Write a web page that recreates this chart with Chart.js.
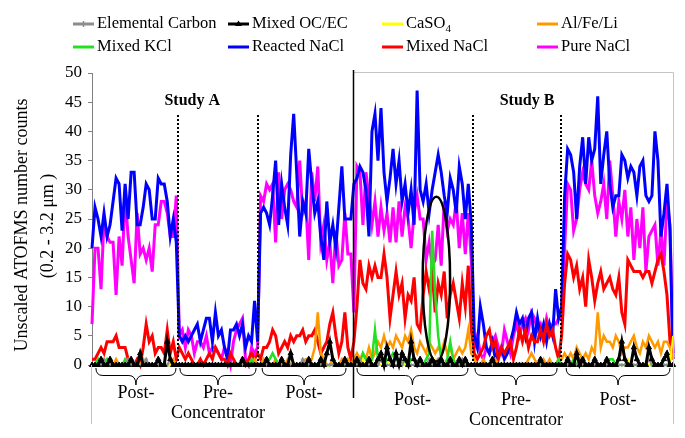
<!DOCTYPE html>
<html>
<head>
<meta charset="utf-8">
<script src="https://cdn.jsdelivr.net/npm/chart.js@4.4.0/dist/chart.umd.min.js"></script>
<style>
  body { margin: 0; background: #fff; }
  #wrap { width: 685px; height: 438px; }
</style>
</head>
<body>
<div id="wrap"><canvas id="chart"></canvas></div>
<script>
// values, one row per section:
// Study A post / pre / post, then Study B post / pre / post
var reactedNaCl = [
  20,27,25,22,26,22,24,28,32,31,23,31,25,33,33,24,24,27,31,30,25,25,32,31,31,28,22,25,21,
  5,4,5,4,5,6,7,4,6,8,8,4,9,5,6,3,1,6,6,7,5,7,3,5,4,11,4,
  26,27,26,24,29,35,24,31,27,24,36,43,33,22,28,26,37,31,26,28,22,18,28,21,24,20,27,34,25,25,25,
  31,32,34,33,30,22,40,43,35,44,33,28,32,37,31,35,28,31,26,30,24,47,30,28,31,26,30,33,36,33,29,26,32,30,26,34,31,25,31,24,
  5,3,10,7,3,2,4,1,2,3,1,2,4,6,9,7,8,5,8,9,4,8,5,7,4,7,5,13,8,
  10,29,37,36,33,25,34,39,31,39,35,37,46,31,36,40,31,27,29,29,36,35,32,34,33,29,34,35,29,28,29,40,35,22,26,31,23,1
];
var pureNaCl = [
  7,20,20,13,25,22,21,21,12,22,17,29,22,18,14,26,19,20,18,20,16,24,24,28,28,26,22,22,29,
  5,6,3,6,5,2,4,4,3,5,2,3,3,2,1,3,2,0,4,6,7,8,1,0,3,2,3,
  29,28,31,30,31,21,33,25,30,31,30,28,27,35,26,28,18,33,28,34,21,24,18,21,14,23,17,18,26,19,19,
  9,34,33,24,33,29,24,28,22,27,23,26,21,27,21,28,22,27,25,20,26,29,25,25,18,21,17,18,24,17,28,23,25,24,28,20,26,19,26,18,
  3,5,2,1,3,2,4,5,3,2,6,4,2,5,7,5,7,8,6,9,8,6,7,5,8,6,7,7,8,
  8,20,31,30,23,25,30,33,31,30,35,29,26,28,31,25,35,29,22,28,25,30,22,27,18,25,20,27,16,22,23,24,17,23,17,28,24,2
];
var mixedNaCl = [
  1,1,2,3,2,4,4,4,5,3,3,3,1,0,0,1,0,3,7,4,5,2,3,3,2,6,2,4,1,
  3,2,1,2,1,0,0,1,0,1,2,1,3,2,1,1,0,2,1,0,0,1,0,1,2,1,2,
  1,3,3,4,6,5,2,3,4,3,5,4,5,5,6,4,5,5,6,4,2,3,4,7,9,5,2,4,9,3,1,
  4,10,18,14,13,17,15,17,15,15,19,15,8,12,16,12,14,8,12,11,15,7,6,12,16,13,16,9,14,12,16,8,12,14,11,8,14,10,17,6,
  2,1,2,3,5,6,3,4,1,3,2,3,4,1,3,6,4,6,3,5,4,4,6,4,7,5,6,3,1,
  5,14,19,18,15,17,13,15,10,18,15,11,14,16,13,14,15,13,12,15,9,7,18,17,16,16,16,15,16,16,14,16,18,19,16,12,4,1
];
var alFeLi = [
  0,0,1,0,0,0,0,0,1,0,0,0,0,0,0,0,0,1,0,0,0,0,1,0,0,0,0,1,0,
  0,0,0,0,0,0,0,0,0,0,0,0,0,0,0,0,0,0,0,0,0,0,0,0,0,1,0,
  0,1,0,0,0,1,0,0,0,1,0,0,0,0,0,1,1,1,3,9,2,1,0,0,1,0,0,1,0,1,0,
  1,2,1,2,1,3,1,2,4,3,5,3,4,3,5,4,3,5,4,6,3,2,4,3,2,4,3,2,3,2,4,2,3,1,2,3,2,3,6,2,
  1,0,0,1,0,0,0,1,0,0,0,0,0,0,0,0,0,0,1,2,1,0,0,1,0,1,0,0,1,
  1,2,1,2,1,3,2,1,2,1,3,2,9,3,5,4,4,3,5,4,2,3,3,4,5,3,2,4,3,5,4,3,4,2,4,4,3,1
];
var mixedKCl = [
  0,0,1,0,0,1,0,0,0,0,0,1,0,0,0,0,0,0,0,0,0,0,0,0,0,0,0,0,0,
  0,0,0,0,0,0,0,0,0,0,0,0,0,0,0,0,0,0,0,0,0,0,0,0,1,0,0,
  0,0,1,1,2,1,0,0,0,0,0,0,0,0,0,0,0,0,0,0,0,0,0,0,0,0,0,0,0,0,0,
  0,1,0,2,1,0,1,6,1,1,0,1,1,2,1,1,0,1,0,1,1,0,1,0,1,2,23,12,5,1,0,1,4,1,0,1,0,1,0,0,
  0,0,0,0,0,0,0,0,0,0,0,0,0,0,0,0,0,0,0,0,0,0,0,0,0,0,0,0,1,
  0,0,1,0,1,0,0,0,0,0,0,0,0,0,0,0,1,1,0,0,0,0,0,0,0,0,0,0,0,0,0,0,0,0,0,0,0,0
];
var mixedOCEC = [
  0,0,0,1,0,0,1,0,0,0,0,0,0,1,0,0,2,0,0,0,0,0,1,0,0,4,1,0,0,
  0,0,0,0,0,0,0,0,0,0,0,0,0,0,0,0,0,0,0,0,0,1,0,0,0,0,0,
  0,0,1,0,0,0,0,1,0,0,2,0,0,0,0,0,1,0,0,0,1,0,2,4,1,0,0,0,1,0,0,
  0,1,0,0,0,1,0,0,1,2,0,3,1,0,2,0,2,1,0,4,1,0,1,0,0,0,1,0,0,1,0,0,1,0,0,1,0,1,0,0,
  0,0,0,0,0,0,1,0,0,0,0,0,0,0,0,0,0,0,0,0,0,0,1,0,0,0,0,0,0,
  0,0,1,0,0,2,0,1,0,0,0,1,0,0,0,1,0,0,0,1,4,1,0,0,3,1,0,0,0,3,1,0,0,0,1,2,0,0
];
var caSO4 = [
  0,0,0,0,0,0,0,0,0,0,0,0,0,0,0,0,0,0,0,0,0,0,0,0,0,0,0,0,0,
  0,0,0,0,0,0,0,0,0,0,0,0,0,0,0,0,0,0,0,0,0,0,0,0,0,0,0,
  0,0,0,0,0,0,0,0,0,0,0,0,0,0,0,0,0,0,0,0,0,0,0,0,0,0,0,0,0,0,0,
  0,0,0,1,0,0,0,0,0,0,0,0,1,0,0,0,0,0,0,0,0,0,0,0,0,0,0,1,0,0,0,0,0,0,0,0,0,1,0,0,
  0,0,0,0,0,0,0,0,0,0,0,0,0,0,0,0,0,0,0,0,0,0,0,0,0,0,0,0,0,
  0,0,0,0,0,0,0,0,0,0,0,0,0,0,0,0,0,0,0,0,0,0,1,0,0,0,0,0,0,0,0,0,0,0,0,0,0,5
];
var elementalCarbon = [
  0,0,0,0,1,0,0,0,0,0,0,0,1,0,0,0,0,0,1,0,0,0,0,0,0,0,1,0,0,
  0,0,0,0,0,0,0,0,0,0,0,0,0,0,0,0,0,0,0,0,0,0,0,0,0,0,0,
  0,0,0,0,0,0,0,0,0,0,0,0,0,0,1,0,0,0,0,0,0,0,0,0,0,0,0,0,0,0,0,
  0,0,1,0,0,0,0,0,0,1,0,0,0,0,0,0,0,1,0,0,0,0,0,0,0,1,0,0,1,0,0,0,0,0,0,0,1,0,0,0,
  0,0,0,0,0,0,0,0,0,0,0,0,0,0,0,0,0,0,0,0,0,0,0,0,0,0,0,0,0,
  0,0,0,0,0,0,1,0,0,0,0,0,0,0,0,0,0,0,0,0,0,0,0,0,0,0,0,0,0,1,0,0,0,0,0,0,0,0
];

var seriesNames = ['Elemental Carbon', 'Mixed OC/EC', 'CaSO4', 'Al/Fe/Li', 'Mixed KCl', 'Reacted NaCl', 'Mixed NaCl', 'Pure NaCl'];
var yTickValues = [0, 5, 10, 15, 20, 25, 30, 35, 40, 45, 50];
var sectionLabels = [['Post-'], ['Pre-', 'Concentrator'], ['Post-'], ['Post-'], ['Pre-', 'Concentrator'], ['Post-']];
var studyLabels = ['Study A', 'Study B'];

// sample number along the x axis
var samples = reactedNaCl.map(function(v, i) { return i; });

// annotation placement, in sample / count units
var dottedAt = [28.6, 55.3, 126.6, 155.9];
var studySplitAt = 86.7;
var braces = [[1.3, 27.9], [29.2, 54.5], [56.5, 84.4], [88.0, 124.9], [127.2, 154.5], [157.5, 192.0]];
var studyLabelAt = [33.3, 144.5];
var ellipseAt = { x: 114.4, y: 14.7, rx: 4.55, ry: 14.1 };

var serif = '"Liberation Serif", "Times New Roman", serif';
var colors = ['#8c8c8c', '#000000', '#ffff00', '#ff9900', '#22e022', '#0000ff', '#ff0000', '#ff00ff'];

function drawBrace(ctx, x1, x2, top, tip) {
    var mid = (top + tip) / 2 - 1;
    var c = (x1 + x2) / 2;
    var r = 7;
    ctx.beginPath();
    ctx.moveTo(x1, top);
    ctx.quadraticCurveTo(x1, mid, x1 + r, mid);
    ctx.lineTo(c - r, mid);
    ctx.quadraticCurveTo(c, mid, c, tip);
    ctx.quadraticCurveTo(c, mid, c + r, mid);
    ctx.lineTo(x2 - r, mid);
    ctx.quadraticCurveTo(x2, mid, x2, top);
    ctx.stroke();
}

function drawLegendItem(ctx, i, lx, ly) {
    ctx.strokeStyle = colors[i];
    ctx.lineWidth = 3;
    ctx.setLineDash([]);
    ctx.beginPath();
    ctx.moveTo(lx, ly);
    ctx.lineTo(lx + 21, ly);
    ctx.stroke();
    if (i === 0) {
        ctx.lineWidth = 1.5;
        ctx.beginPath();
        ctx.moveTo(lx + 10.5, ly - 3);
        ctx.lineTo(lx + 10.5, ly + 3);
        ctx.stroke();
    }
    if (i === 1) {
        ctx.fillStyle = '#000';
        ctx.beginPath();
        ctx.moveTo(lx + 10.5, ly - 3.5);
        ctx.lineTo(lx + 14, ly + 2);
        ctx.lineTo(lx + 7, ly + 2);
        ctx.fill();
    }
    ctx.fillStyle = '#000';
    ctx.textAlign = 'left';
    ctx.textBaseline = 'middle';
    ctx.font = '16.5px ' + serif;
    var tx = lx + 24;
    if (seriesNames[i] === 'CaSO4') {
        ctx.fillText('CaSO', tx, ly);
        var w = ctx.measureText('CaSO').width;
        ctx.font = '11px ' + serif;
        ctx.fillText('4', tx + w, ly + 5);
    } else {
        ctx.fillText(seriesNames[i], tx, ly);
    }
}

var decorations = {
    id: 'decorations',
    afterDatasetsDraw: function(chart) {
        var ctx = chart.ctx;
        var xs = chart.scales.x;
        var ys = chart.scales.y;
        var area = chart.chartArea;
        ctx.save();

        // frame
        ctx.strokeStyle = '#c4c4c4';
        ctx.lineWidth = 1;
        ctx.beginPath();
        ctx.moveTo(xs.getPixelForValue(studySplitAt), area.top - 0.5);
        ctx.lineTo(area.right + 0.5, area.top - 0.5);
        ctx.lineTo(area.right + 0.5, 424);
        ctx.moveTo(area.left - 0.5, area.bottom);
        ctx.lineTo(area.left - 0.5, 424);
        ctx.stroke();

        // dotted section dividers
        ctx.strokeStyle = '#000';
        ctx.lineWidth = 2;
        ctx.setLineDash([2, 2]);
        dottedAt.forEach(function(v) {
            var px = Math.round(xs.getPixelForValue(v));
            ctx.beginPath();
            ctx.moveTo(px, ys.getPixelForValue(42.8));
            ctx.lineTo(px, area.bottom);
            ctx.stroke();
        });
        ctx.setLineDash([]);

        // study split
        var sx = Math.round(xs.getPixelForValue(studySplitAt)) + 0.5;
        ctx.lineWidth = 1.5;
        ctx.beginPath();
        ctx.moveTo(sx, area.top - 3);
        ctx.lineTo(sx, 398);
        ctx.stroke();

        // ellipse around the KCl event
        var ex = xs.getPixelForValue(ellipseAt.x);
        var ey = ys.getPixelForValue(ellipseAt.y);
        var erx = xs.getPixelForValue(ellipseAt.x + ellipseAt.rx) - ex;
        var ery = ey - ys.getPixelForValue(ellipseAt.y + ellipseAt.ry);
        ctx.lineWidth = 2.5;
        ctx.beginPath();
        ctx.ellipse(ex, ey, erx, ery, 0, 0, Math.PI * 2);
        ctx.stroke();

        // braces and section labels
        ctx.lineWidth = 1;
        ctx.fillStyle = '#000';
        ctx.font = '18px ' + serif;
        ctx.textAlign = 'center';
        ctx.textBaseline = 'middle';
        braces.forEach(function(b, i) {
            var x1 = xs.getPixelForValue(b[0]);
            var x2 = xs.getPixelForValue(b[1]);
            drawBrace(ctx, x1, x2, 368, 385);
            var cx = (x1 + x2) / 2;
            var base = i < 3 ? 393 : 400;
            sectionLabels[i].forEach(function(t, k) {
                ctx.fillText(t, cx, base + k * 20);
            });
        });

        // study labels
        ctx.font = 'bold 16px ' + serif;
        studyLabels.forEach(function(t, i) {
            ctx.fillText(t, xs.getPixelForValue(studyLabelAt[i]), 101);
        });

        // y axis title
        ctx.font = '18px ' + serif;
        ctx.save();
        ctx.translate(22, 225);
        ctx.rotate(-Math.PI / 2);
        ctx.fillText('Unscaled ATOFMS number counts', 0, 0);
        ctx.restore();
        ctx.save();
        ctx.translate(48, 226);
        ctx.rotate(-Math.PI / 2);
        ctx.fillText('(0.2 - 3.2 \u03bcm )', 0, 0);
        ctx.restore();

        // legend, two rows of four
        var colX = [73, 228, 382, 537];
        var rowY = [24, 47];
        for (var i = 0; i < seriesNames.length; i++) {
            drawLegendItem(ctx, i, colX[i % 4], rowY[Math.floor(i / 4)]);
        }

        ctx.restore();
    }
};

function series(i, values, width, order, extra) {
    var ds = {
        label: seriesNames[i],
        data: values,
        borderColor: colors[i],
        backgroundColor: colors[i],
        borderWidth: width,
        pointRadius: 0,
        tension: 0,
        fill: false,
        order: order,
        clip: 8
    };
    for (var k in extra) { ds[k] = extra[k]; }
    return ds;
}

var ctx = document.getElementById('chart');
var chart = new Chart(ctx, {
    type: 'line',
    data: {
        labels: samples,
        datasets: [
            series(0, elementalCarbon, 2, 1, { pointStyle: 'cross', pointRadius: 2, pointBorderWidth: 1 }),
            series(1, mixedOCEC, 3, 0, { pointStyle: 'triangle', pointRadius: 3, pointBorderWidth: 1 }),
            series(2, caSO4, 2, 2, {}),
            series(3, alFeLi, 2.5, 4, {}),
            series(4, mixedKCl, 2.5, 3, {}),
            series(5, reactedNaCl, 3, 6, {}),
            series(6, mixedNaCl, 3, 5, {}),
            series(7, pureNaCl, 3, 7, {})
        ]
    },
    options: {
        responsive: true,
        maintainAspectRatio: false,
        animation: false,
        devicePixelRatio: 1,
        layout: { autoPadding: false, padding: { top: 73, right: 12, bottom: 73, left: 0 } },
        plugins: { legend: { display: false }, tooltip: { enabled: false } },
        scales: {
            x: { display: false },
            y: {
                min: 0,
                max: 50,
                afterFit: function(scale) { scale.width = 92; },
                afterBuildTicks: function(scale) {
                    scale.ticks = yTickValues.map(function(v) { return { value: v }; });
                },
                ticks: { color: '#000', padding: 6, font: { family: serif, size: 17 } },
                grid: { drawOnChartArea: false, tickLength: 4, color: '#808080' },
                border: { color: '#808080' }
            }
        }
    },
    plugins: [decorations]
});
</script>
</body>
</html>
